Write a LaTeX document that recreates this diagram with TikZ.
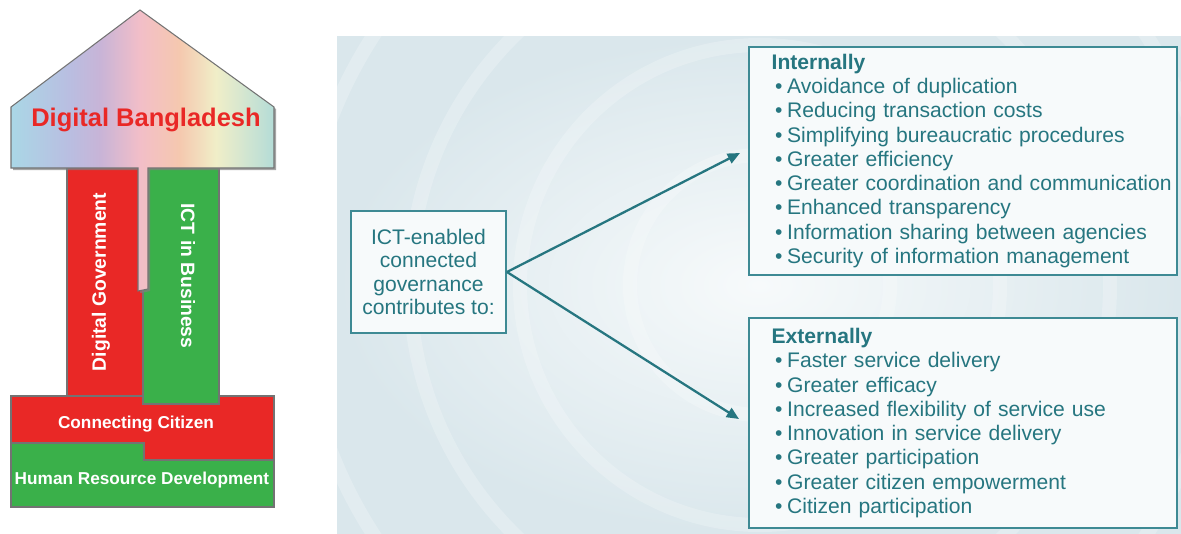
\documentclass[tikz,border=0pt]{standalone}
\usepackage{fontspec}
\setmainfont{Liberation Sans}
\usepackage{tikz}
\usetikzlibrary{arrows.meta, positioning, shadows}
\definecolor{bdred}{RGB}{233,40,38}
\definecolor{bdgreen}{RGB}{58,176,74}
\definecolor{tealtext}{RGB}{38,118,128}
\definecolor{tealframe}{RGB}{62,138,148}
\definecolor{panelbg}{RGB}{218,231,236}
\definecolor{panellight}{RGB}{247,250,251}
\definecolor{hbA}{RGB}{170,215,230}
\definecolor{hbB}{RGB}{185,190,225}
\definecolor{hbC}{RGB}{200,180,215}
\definecolor{hbD}{RGB}{242,190,200}
\definecolor{hbE}{RGB}{245,200,175}
\definecolor{hbF}{RGB}{240,238,200}
\definecolor{hbG}{RGB}{205,228,210}
\definecolor{hbH}{RGB}{180,220,215}
\pgfdeclarehorizontalshading{rainbowhouse}{100bp}{color(0bp)=(hbA); color(25bp)=(hbA); color(36bp)=(hbB); color(42bp)=(hbC); color(49.5bp)=(hbD); color(57bp)=(hbE); color(64bp)=(hbF); color(70.5bp)=(hbG); color(75bp)=(hbH); color(100bp)=(hbH)}
\newcommand{\bulletline}[1]{\mbox{\hspace{2pt}\textbullet\hspace{0.22em}#1}}

\begin{document}
\begin{tikzpicture}[
    x=0.02cm, y=-0.02cm,
    block/.style={draw=black!55, line width=0.6pt},
    blocklabel/.style={text=white, font=\bfseries\fontsize{9.8}{11}\selectfont, inner sep=0pt},
    pillarlabel/.style={text=white, font=\bfseries\fontsize{11}{13}\selectfont, inner sep=0pt},
    hub/.style={draw=tealframe, line width=1.1pt, fill=panellight, text=tealtext, minimum width=3.1cm, minimum height=2.44cm, align=center, font=\fontsize{12}{13.3}\selectfont},
    listbox/.style={draw=tealframe, line width=1.1pt, fill=panellight, text=tealtext, text width=217.8pt, inner xsep=13pt, align=left, font=\fontsize{12}{13.8}\selectfont},
    flow/.style={-{Triangle[length=7pt,width=6pt]}, line width=1.3pt, tealtext}
]
    \useasboundingbox (0,0) rectangle (1181,534);

    % Pillars and foundation
    \draw[block, fill=bdred] (67,160) rectangle (143,400);
    \draw[block, fill=bdred] (11,396) -- (274,396) -- (274,460) -- (144,460) -- (144,443) -- (11,443) -- cycle;
    \draw[block, fill=bdgreen] (143,160) rectangle (219,404);
    \draw[block, fill=bdgreen] (11,443) -- (144,443) -- (144,460) -- (274,460) -- (274,507) -- (11,507) -- cycle;

    % Roof
    \shadedraw[draw=black!55, line width=0.6pt, shading=rainbowhouse, drop shadow={shadow xshift=1.2pt, shadow yshift=-1.2pt, opacity=0.7}]
        (11,107) -- (140,10) -- (274,107) -- (274,168) -- (148,168) -- (148,289) -- (138,291) -- (138,168) -- (11,168) -- cycle;

    % Labels
    \node[font=\bfseries\fontsize{14.5}{16}\selectfont, text=bdred] (dbtitle) at (146,120) {Digital Bangladesh};
    \node[pillarlabel, rotate=90] (digov) at (101,282) {Digital Government};
    \node[pillarlabel, rotate=-90] (ictbiz) at (188,276) {ICT in Business};
    \node[blocklabel] (concit) at (136,424) {Connecting Citizen};
    \node[blocklabel] (hrd) at (142,480) {Human Resource Development};

    % Background panel
    \shade[inner color=panellight, outer color=panelbg] (337,36) rectangle (1181,534);
    \begin{scope}
        \clip (337,36) rectangle (1181,534);
        \foreach \r in {130,240,350,460}
            \draw[white, opacity=0.22, line width=8pt] (760,285) circle[radius=\r];
    \end{scope}

    % Governance boxes
    \node[hub] (hub) at (428.5,272) {ICT-enabled\\connected\\governance\\contributes to:};
    \node[listbox, minimum height=4.56cm] (inner) at (963,161) {\textbf{Internally}\\
        \bulletline{Avoidance of duplication}\\
        \bulletline{Reducing transaction costs}\\
        \bulletline{Simplifying bureaucratic procedures}\\
        \bulletline{Greater efficiency}\\
        \bulletline{Greater coordination and communication}\\
        \bulletline{Enhanced transparency}\\
        \bulletline{Information sharing between agencies}\\
        \bulletline{Security of information management}};
    \node[listbox, minimum height=4.2cm] (outer) at (963,423) {\textbf{Externally}\\
        \bulletline{Faster service delivery}\\
        \bulletline{Greater efficacy}\\
        \bulletline{Increased flexibility of service use}\\
        \bulletline{Innovation in service delivery}\\
        \bulletline{Greater participation}\\
        \bulletline{Greater citizen empowerment}\\
        \bulletline{Citizen participation}};

    % Connections
    \coordinate (intip) at (740,153);
    \coordinate (extip) at (739,419);
    \draw[flow] (hub.east) -- (intip);
    \draw[flow] (hub.east) -- (extip);
\end{tikzpicture}
\end{document}
